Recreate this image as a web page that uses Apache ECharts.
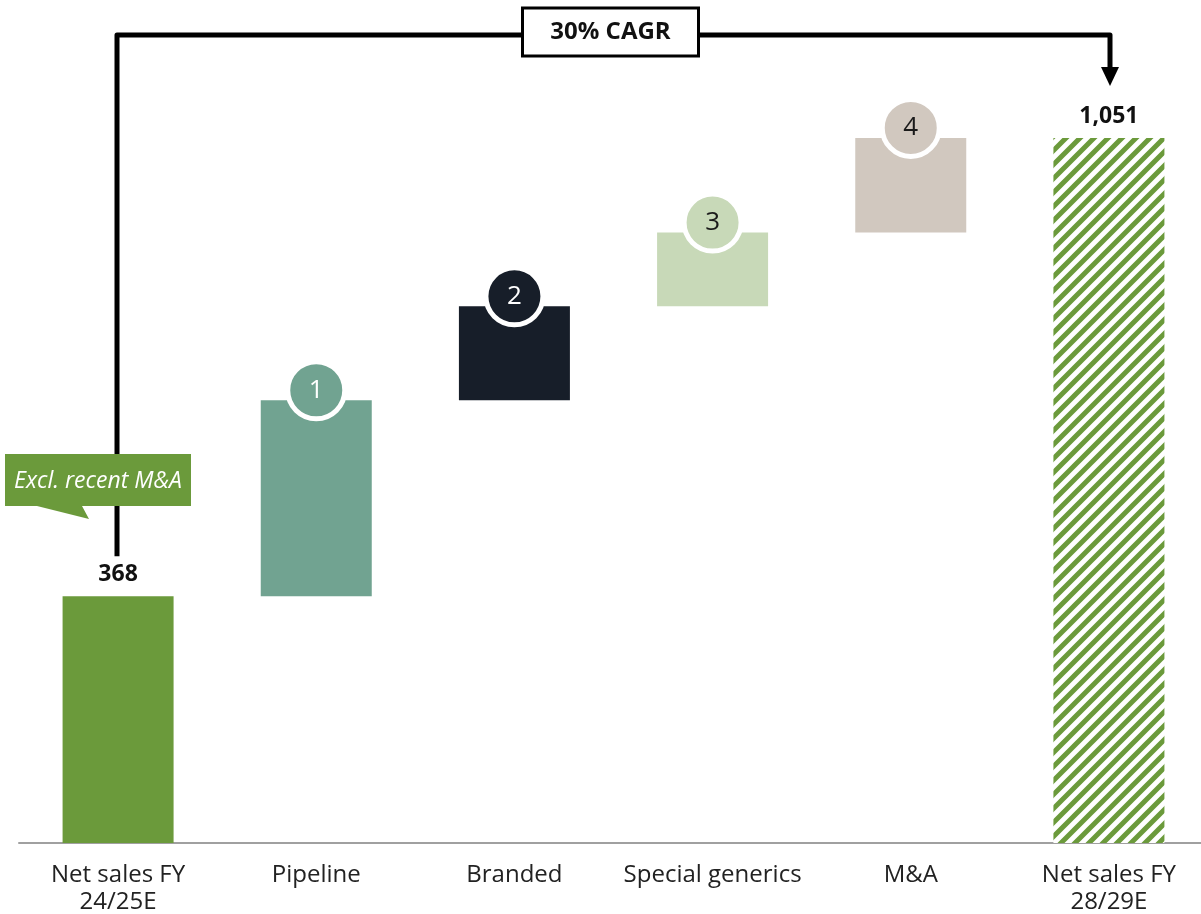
<!DOCTYPE html>
<html>
<head>
<meta charset="utf-8">
<script src="https://cdn.jsdelivr.net/npm/echarts@6/dist/echarts.min.js"></script>
<style>
html,body{margin:0;padding:0;background:#fff;overflow:hidden;}
#c{width:1215px;height:914px;}
</style>
</head>
<body>
<div id="c"></div>
<script>
const categories = ['Net sales FY\n24/25E', 'Pipeline', 'Branded', 'Special generics', 'M&A', 'Net sales FY\n28/29E'];
const startValue = 368;
const steps = [292, 140, 110, 141];
const endValue = 1051;
const stepLabels = ['1', '2', '3', '4'];
const cagrText = '30% CAGR';
const calloutText = 'Excl. recent M&A';

const colors = ['#6b9a3b', '#71a391', '#171e29', '#c8d9b8', '#d1c8bf'];
const numColors = ['#ffffff', '#ffffff', '#1a1a1a', '#1a1a1a'];
const FONT = '"Open Sans", sans-serif';

// hatch pattern
const pc = document.createElement('canvas');
pc.width = 14; pc.height = 14;
const g = pc.getContext('2d');
g.fillStyle = '#ffffff'; g.fillRect(0,0,14,14);
g.strokeStyle = '#6b9a3b'; g.lineWidth = 5;
g.beginPath();
g.moveTo(-7, 7); g.lineTo(7, -7);
g.moveTo(0, 14); g.lineTo(14, 0);
g.moveTo(7, 21); g.lineTo(21, 7);
g.stroke();

// build waterfall arrays
const base = [0];
const vis = [startValue];
let cum = startValue;
const tops = ['-'];
steps.forEach(s => { base.push(cum); vis.push(s); cum += s; tops.push(cum); });
base.push(0); vis.push(endValue); tops.push('-');

const visData = vis.map((v, i) => {
  let color;
  if (i === 0) color = colors[0];
  else if (i === vis.length - 1) color = {image: pc, repeat: 'repeat'};
  else color = colors[i];
  const item = {value: v, itemStyle: {color: color}};
  if (i === 0 || i === vis.length - 1) {
    item.label = {show: true, position: 'top', distance: 10, fontWeight: 'bold', fontSize: 23, color: '#111', fontFamily: FONT,
      formatter: p => p.value.toLocaleString('en-US')};
  }
  return item;
});

const circleData = tops.map((t, i) => {
  if (t === '-') return '-';
  return {value: t, itemStyle: {color: colors[i]},
    label: {color: numColors[i - 1], formatter: stepLabels[i - 1]}};
});

const chart = echarts.init(document.getElementById('c'), null, {renderer: 'canvas'});
chart.setOption({
  animation: false,
  grid: {left: 19, right: 7, top: 38, bottom: 71, outerBoundsMode: 'none', containLabel: false},
  xAxis: {
    type: 'category', data: categories,
    axisLine: {show: true, lineStyle: {color: '#a0a0a0', width: 2}},
    axisTick: {show: false},
    axisLabel: {fontSize: 24, color: '#222', fontFamily: FONT, lineHeight: 27, margin: 19, interval: 0}
  },
  yAxis: {type: 'value', min: 0, max: 1200, show: false, splitLine: {show: false}},
  series: [
    {type: 'bar', stack: 'w', data: base, barWidth: 111, itemStyle: {color: 'transparent'}, silent: true},
    {type: 'bar', stack: 'w', data: visData, barWidth: 111},
    {type: 'scatter', data: circleData, symbol: 'circle', symbolSize: 57, symbolOffset: [0, -10], z: 5,
      itemStyle: {borderColor: '#fff', borderWidth: 5, opacity: 1},
      label: {show: true, position: 'inside', fontSize: 26, fontFamily: FONT}}
  ]
});

// overlay bracket & callout
const p0 = chart.convertToPixel({gridIndex: 0}, [0, startValue]);
const p5 = chart.convertToPixel({gridIndex: 0}, [categories.length - 1, endValue]);
const x0 = Math.round(p0[0]) - 1, x5 = Math.round(p5[0]) + 1;
const yTop = 35;
const mid = (x0 + x5) / 2 - 3;
chart.setOption({
  graphic: [
    {type: 'polyline', z: 10, shape: {points: [[x0, p0[1] - 40], [x0, yTop], [x5, yTop], [x5, 70]]},
      style: {stroke: '#000', lineWidth: 5, fill: null, lineJoin: 'round'}},
    {type: 'polygon', z: 10, shape: {points: [[x5 - 9, 67], [x5 + 9, 67], [x5, 86]]}, style: {fill: '#000'}},
    {type: 'rect', z: 11, shape: {x: mid - 88, y: 8, width: 176, height: 48}, style: {fill: '#fff', stroke: '#000', lineWidth: 3}},
    {type: 'text', z: 12, x: mid, y: 32, style: {text: cagrText, fontSize: 24, fontWeight: 'bold', fontFamily: FONT, fill: '#111', align: 'center', verticalAlign: 'middle'}},
    {type: 'polygon', z: 11, shape: {points: [[x0 - 112, 454], [x0 + 74, 454], [x0 + 74, 506], [x0 - 35, 506], [x0 - 28, 519], [x0 - 80, 506], [x0 - 112, 506]]},
      style: {fill: '#6b9a3b'}},
    {type: 'text', z: 12, x: x0 - 19, y: 481, style: {text: calloutText, fontSize: 23, fontStyle: 'italic', fontFamily: FONT, fill: '#fff', align: 'center', verticalAlign: 'middle'}}
  ]
});
</script>
</body>
</html>
